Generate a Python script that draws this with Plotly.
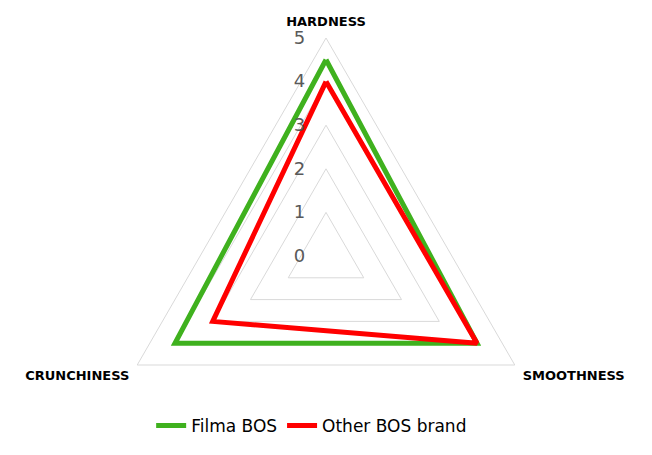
import plotly.graph_objects as go

# attributes on the radar axes (clockwise from top)
attributes = ["HARDNESS", "SMOOTHNESS", "CRUNCHINESS"]

filma_bos = [4.5, 4, 4]
other_bos = [4, 4, 3]

radial_ticks = [0, 1, 2, 3, 4, 5]

fig = go.Figure()

# close the polygon by repeating the first point
fig.add_trace(go.Scatterpolar(
    r=filma_bos + filma_bos[:1],
    theta=attributes + attributes[:1],
    mode="lines",
    name="Filma BOS",
    line=dict(color="#3fb11e", width=5),
))
fig.add_trace(go.Scatterpolar(
    r=other_bos + other_bos[:1],
    theta=attributes + attributes[:1],
    mode="lines",
    name="Other BOS brand",
    line=dict(color="#ff0000", width=5),
))

fig.update_layout(
    width=652,
    height=480,
    margin=dict(l=0, r=0, t=38, b=6),
    paper_bgcolor="white",
    font=dict(family="DejaVu Sans", color="black"),
    polar=dict(
        bgcolor="white",
        gridshape="linear",
        domain=dict(x=[0, 1], y=[0, 1]),
        angularaxis=dict(
            rotation=90,
            direction="clockwise",
            showgrid=False,
            showline=True,
            linecolor="#d9d9d9",
            linewidth=1,
            ticks="outside",
            ticklen=6,
            tickcolor="rgba(0,0,0,0)",
            tickfont=dict(family="DejaVu Sans", size=13, color="black", weight="bold"),
        ),
        radialaxis=dict(
            range=[0, 5],
            tickvals=radial_ticks,
            angle=90,
            side="counterclockwise",
            tickangle=90,
            showline=False,
            showgrid=True,
            gridcolor="#d9d9d9",
            gridwidth=1,
            ticks="outside",
            ticklen=14,
            tickcolor="rgba(0,0,0,0)",
            tickfont=dict(family="DejaVu Sans", size=18, color="#595959"),
        ),
    ),
    showlegend=True,
    legend=dict(
        orientation="h",
        x=0.478,
        xanchor="center",
        y=0.11,
        yanchor="middle",
        font=dict(family="DejaVu Sans", size=17, color="black"),
        bgcolor="rgba(0,0,0,0)",
    ),
)

fig.write_html(
    "out.html",
    config={"displayModeBar": False},
    post_script="document.body.style.margin='0';"
                "document.body.style.overflow='hidden';"
                "document.documentElement.style.overflow='hidden';",
)
